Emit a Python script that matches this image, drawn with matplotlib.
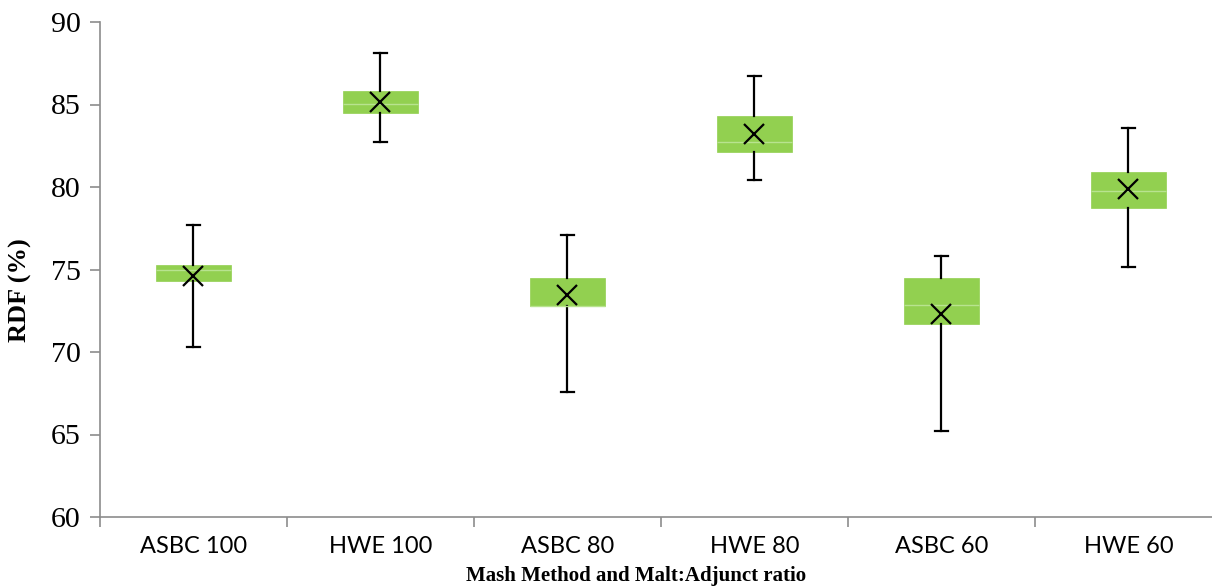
import numpy as np
import matplotlib
matplotlib.use("Agg")
import matplotlib.pyplot as plt

# Data ---------------------------------------------------------------
groups = ['ASBC 100', 'HWE 100', 'ASBC 80', 'HWE 80', 'ASBC 60', 'HWE 60']
whislo = [70.3, 82.75, 67.6, 80.4, 65.2, 75.15]
q1 = [74.3, 84.5, 72.8, 82.15, 71.7, 78.75]
med = [75.0, 85.05, 72.8, 82.75, 72.85, 79.75]
q3 = [75.3, 85.8, 74.5, 84.3, 74.5, 80.9]
whishi = [77.7, 88.15, 77.1, 86.7, 75.8, 83.6]
means = [74.6, 85.15, 73.45, 83.2, 72.3, 79.85]

green = '#92D050'
axis_grey = '#8c8c8c'

fig = plt.figure(figsize=(12.12, 5.88), dpi=100)
ax = fig.add_axes([100/1212, 71/588, 1112/1212, 495/588])

stats = []
for i in range(len(groups)):
    stats.append(dict(label=groups[i], whislo=whislo[i], q1=q1[i], med=med[i],
                      q3=q3[i], whishi=whishi[i], mean=means[i]))

pos = np.arange(len(groups))
ax.bxp(stats, positions=pos, widths=0.4, capwidths=0.07, patch_artist=True,
       showmeans=True, meanline=False, showfliers=False,
       boxprops=dict(facecolor=green, edgecolor=green, linewidth=0.5),
       medianprops=dict(color='#b8e38f', linewidth=1.0),
       whiskerprops=dict(color='black', linewidth=1.6),
       capprops=dict(color='black', linewidth=1.6),
       meanprops=dict(marker='x', markersize=15, markeredgecolor='black',
                      markeredgewidth=1.6),
       zorder=2)

ax.set_xlim(-0.5, 5.447)
ax.set_ylim(60, 90)
ax.set_yticks(np.arange(60, 91, 5))
ax.set_xticks(pos)
ax.set_xticklabels(groups, fontfamily='Lato', fontsize=17)
ax.set_xticks(np.arange(-0.5, 5.5, 1), minor=True)
ax.tick_params(axis='x', which='major', length=0, pad=14)
ax.tick_params(axis='x', which='minor', length=7, color=axis_grey, width=1.2)
ax.tick_params(axis='y', length=7, color=axis_grey, width=1.2, pad=7)
for lab in ax.get_yticklabels():
    lab.set_fontfamily('Liberation Serif')
    lab.set_fontsize(21.5)

for s in ['top', 'right']:
    ax.spines[s].set_visible(False)
for s in ['left', 'bottom']:
    ax.spines[s].set_color(axis_grey)
    ax.spines[s].set_linewidth(1.2)

ax.set_xlabel('Mash Method and Malt:Adjunct ratio', fontfamily='Liberation Serif',
              fontweight='bold', fontsize=15)
ax.xaxis.set_label_coords(0.482, -0.099)
ax.set_ylabel('RDF (%)', fontfamily='Liberation Serif', fontweight='bold', fontsize=19)
ax.yaxis.set_label_coords(-0.061, 0.459)

fig.savefig('out.png', dpi=100)
